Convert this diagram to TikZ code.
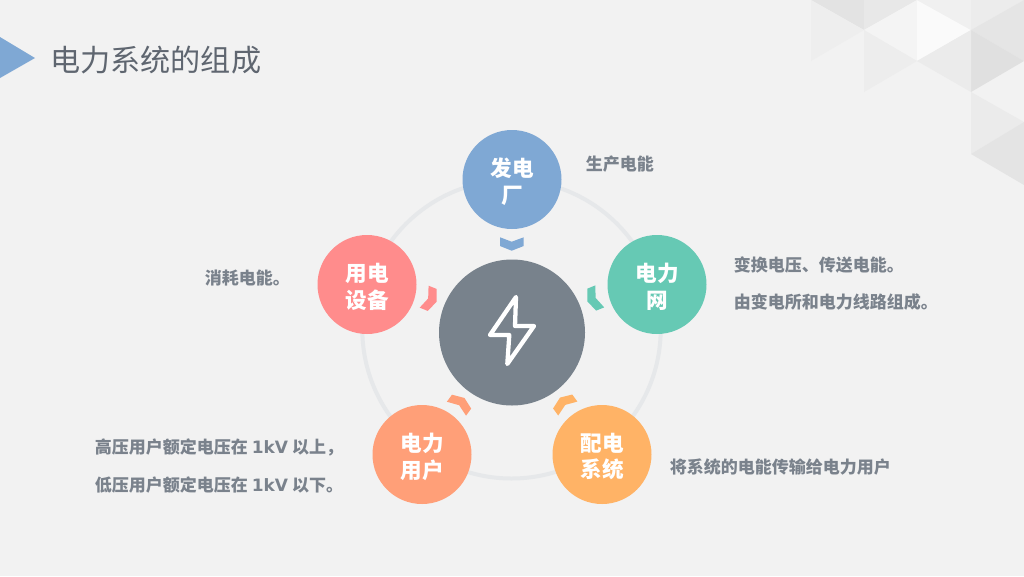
\documentclass[tikz,border=0pt]{standalone}
\usepackage{fontspec}
\setmainfont{Noto Sans CJK SC}
\newfontfamily\latinbold{DejaVu Sans Bold}
\definecolor{bgc}{HTML}{F2F2F2}
\definecolor{blueC}{HTML}{7FA8D4}
\definecolor{tealC}{HTML}{66C9B4}
\definecolor{orangeC}{HTML}{FFB366}
\definecolor{coralC}{HTML}{FF9F78}
\definecolor{pinkC}{HTML}{FF8C8C}
\definecolor{hubC}{HTML}{78828C}
\definecolor{ringC}{HTML}{E6E8EA}
\definecolor{textC}{HTML}{7A828C}
\definecolor{titleC}{HTML}{5F6670}
\tikzset{
  x=0.75pt,y=-0.75pt,
  disc/.style={circle,minimum size=74.25pt,inner sep=0pt,fill=none},
  disclabel/.style={inner sep=0pt,align=center,text=white,
    font=\fontsize{16.2pt}{20.2pt}\selectfont\bfseries},
  desc/.style={anchor=west,inner sep=0pt,text=textC,font=\fontsize{12.75pt}{15pt}\selectfont\bfseries},
}
\newcommand{\chev}[2]{\fill[#2,rotate around={#1:(512,332)}] (500,237.3) -- (511.7,241.7) -- (523.7,237.3) -- (523.7,246) -- (511.7,250.7) -- (500,246) -- cycle;}
\newcommand{\tri}[4]{\fill[black!#4!white] #1 -- #2 -- #3 -- cycle;}
\begin{document}
\begin{tikzpicture}
\useasboundingbox (0,0) rectangle (1024,576);
\fill[bgc] (0,0) rectangle (1024,576);
% decorative triangles
\tri{(811,0)}{(864,0)}{(864,30)}{11}
\tri{(864,0)}{(917,0)}{(864,30)}{9}
\tri{(811,0)}{(864,30)}{(811,61)}{6.5}
\tri{(864,30)}{(917,0)}{(917,61)}{4.5}
\tri{(917,0)}{(971,30)}{(917,61)}{2}
\tri{(917,0)}{(971,0)}{(971,30)}{6}
\tri{(971,0)}{(1024,0)}{(971,30)}{7.5}
\tri{(971,30)}{(1024,0)}{(1024,61)}{10}
\tri{(971,30)}{(1024,61)}{(971,92)}{12}
\tri{(917,61)}{(971,30)}{(971,92)}{8}
\tri{(864,30)}{(917,61)}{(864,92)}{7}
\tri{(971,92)}{(1024,122)}{(971,154)}{8}
\tri{(971,154)}{(1024,122)}{(1024,185)}{10.5}
% title
\fill[blueC] (0,37) -- (35,58) -- (0,78) -- cycle;
\node[anchor=west,inner sep=0pt,text=titleC,font=\fontsize{22.6pt}{26pt}\selectfont] (title) at (50,60) {电力系统的组成};
% ring
\draw[ringC,line width=3pt] (511.5,329.3) circle (149.2);
% hub
\node[circle,fill=hubC,minimum size=109.5pt,inner sep=0pt] (hub) at (512,332.5) {};
\draw[white,line width=3.2pt,line join=round,line cap=round] (516,297) -- (490,335) -- (509.3,335) -- (507.3,364) -- (534,326) -- (515,326) -- cycle;
% satellites
\node[disc,fill=blueC] (plant) at (512,179.5) {};
\node[disc,fill=tealC] (grid) at (657,284.5) {};
\node[disc,fill=orangeC] (dist) at (602,454.5) {};
\node[disc,fill=coralC] (user) at (422,454.5) {};
\node[disc,fill=pinkC] (equip) at (367,284.5) {};
\node[disclabel] (plantT) at (512,181.5) {发电\\厂};
\node[disclabel] (gridT) at (657,286.5) {电力\\网};
\node[disclabel] (distT) at (602,456.5) {配电\\系统};
\node[disclabel] (userT) at (422,456.5) {电力\\用户};
\node[disclabel] (equipT) at (367,286.5) {用电\\设备};
% chevrons
\chev{0}{blueC}
\chev{-68}{tealC}
\chev{-144}{orangeC}
\chev{144}{coralC}
\chev{68}{pinkC}
% descriptions
\node[desc] (d1) at (585.5,164.5) {生产电能};
\node[desc] (d2) at (733.5,265.5) {变换电压、传送电能。};
\node[desc] (d3) at (733.5,302.5) {由变电所和电力线路组成。};
\node[desc] (d4) at (204.5,277.5) {消耗电能。};
\node[desc] (d5) at (94.5,447.5) {高压用户额定电压在\hspace{3pt}{\latinbold 1kV}\hspace{3pt}以上，};
\node[desc] (d6) at (94.5,484.5) {低压用户额定电压在\hspace{3pt}{\latinbold 1kV}\hspace{3pt}以下。};
\node[desc] (d7) at (669.5,467.5) {将系统的电能传输给电力用户};
\end{tikzpicture}
\end{document}
